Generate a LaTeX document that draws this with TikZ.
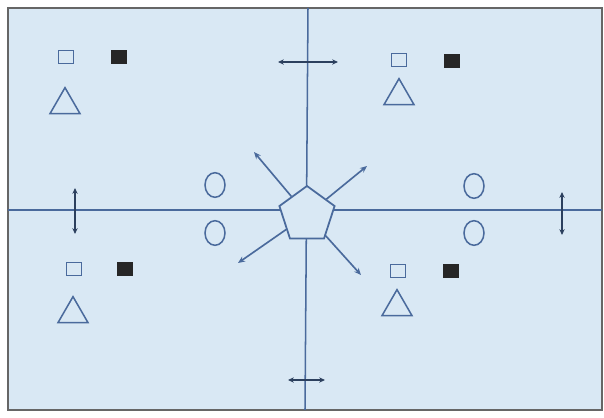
\documentclass[tikz,border=0pt]{standalone}
\usetikzlibrary{shapes.geometric,arrows.meta}
\definecolor{paper}{HTML}{D9E8F4}
\definecolor{ink}{HTML}{4A6A9C}
\tikzset{
  openbox/.style={draw=ink, line width=1.4pt, minimum width=0.46cm, minimum height=0.4cm, inner sep=0pt},
  fullbox/.style={fill=black!85, minimum width=0.5cm, minimum height=0.4cm, inner sep=0pt},
  tri/.style={regular polygon, regular polygon sides=3, draw=ink, line width=1.3pt, minimum size=1.04cm, inner sep=0pt},
  ring/.style={ellipse, draw=ink, line width=1.3pt, minimum width=0.6cm, minimum height=0.74cm, inner sep=0pt},
  arr/.style={draw=ink, line width=1.4pt, -{Stealth[length=6pt,width=5pt]}},
  darr/.style={draw=ink!60!black, line width=1.3pt, {Stealth[length=5pt,width=4.5pt]}-{Stealth[length=5pt,width=4.5pt]}}
}
\begin{document}
\begin{tikzpicture}[x=0.03cm, y=-0.03cm]
  \useasboundingbox (0,0) rectangle (604,418);
  % frame and axes
  \fill[white] (0,0) rectangle (604,418);
  \fill[paper] (8,8) rectangle (602,410);
  \draw[black!60, line width=1pt] (8,8) -- (602,8) -- (602,410) -- (8,410) -- cycle;
  \draw[ink, line width=1.3pt] (308,8) -- (305,410);
  \draw[ink, line width=1.3pt] (8,210) -- (602,210);

  % centre pentagon
  \node[regular polygon, regular polygon sides=5, draw=ink, line width=1.5pt, fill=paper,
        minimum size=1.74cm, inner sep=0pt] (pent) at (307,215) {};
  \coordinate (ul) at (254,152);
  \coordinate (ur) at (367,166);
  \coordinate (ll) at (238,263);
  \coordinate (lr) at (361,275);
  \foreach \c in {ul,ur,ll,lr}
    \draw[arr] (pent) -- (\c);

  % quadrant groups
  \node[openbox] (tlo) at (66,57) {};
  \node[fullbox] (tlf) at (119,57) {};
  \node[tri] (tlt) at (65,105) {};
  \node[openbox] (tro) at (399,60) {};
  \node[fullbox] (trf) at (452,61) {};
  \node[tri] (trt) at (399,96) {};
  \node[openbox] (blo) at (74,269) {};
  \node[fullbox] (blf) at (125,269) {};
  \node[tri] (blt) at (73,314) {};
  \node[openbox] (bro) at (398,271) {};
  \node[fullbox] (brf) at (451,271) {};
  \node[tri] (brt) at (397,307) {};

  % circles
  \node[ring] (c1) at (215,185) {};
  \node[ring] (c2) at (215,233) {};
  \node[ring] (c3) at (474,186) {};
  \node[ring] (c4) at (474,233) {};

  % double arrows
  \coordinate (ta) at (278,62);  \coordinate (tb) at (338,62);
  \coordinate (ba) at (288,380); \coordinate (bb) at (325,380);
  \coordinate (la) at (75,188);  \coordinate (lb) at (75,234);
  \coordinate (ra) at (562,192); \coordinate (rb) at (562,235);
  \draw[darr] (ta) -- (tb);
  \draw[darr] (ba) -- (bb);
  \draw[darr] (la) -- (lb);
  \draw[darr] (ra) -- (rb);
\end{tikzpicture}
\end{document}
